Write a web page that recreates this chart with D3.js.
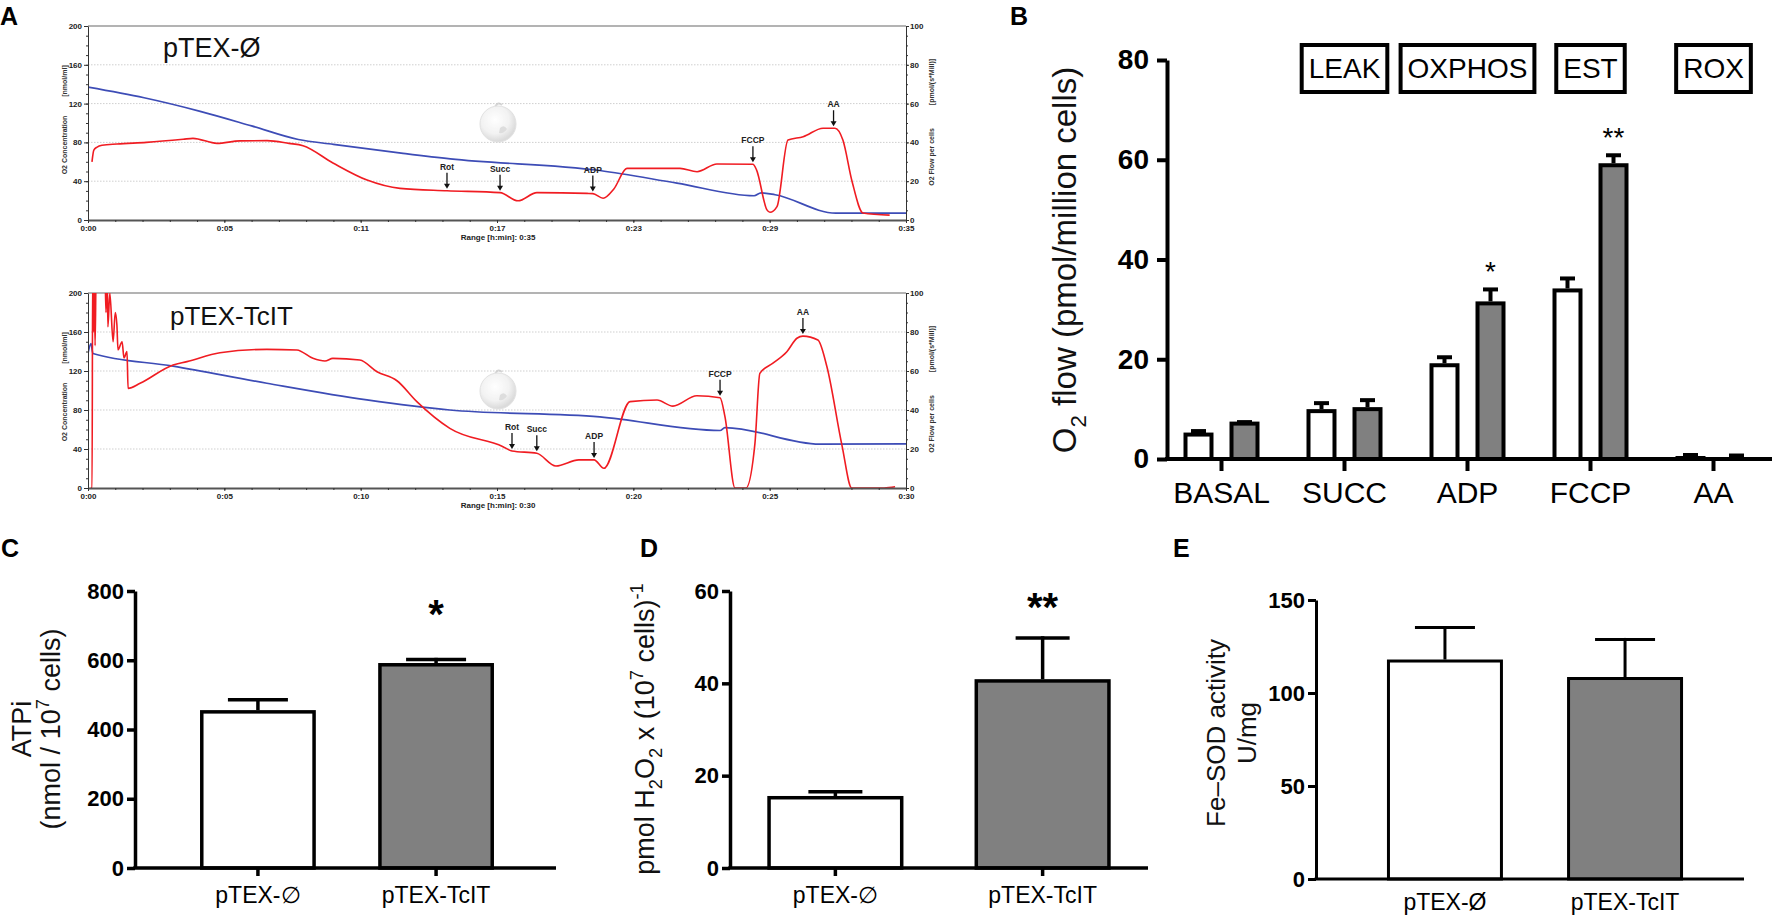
<!DOCTYPE html>
<html>
<head>
<meta charset="utf-8">
<script src="https://cdn.jsdelivr.net/npm/d3@7"></script>
<style>
  body { margin: 0; background: white; }
</style>
</head>
<body>
<script>
// ---- panel A: oxygraph traces (time in min) ----
// O2 concentration [nmol/ml], left scale
var topConc = [[0,137],[2.4,126],[4.8,112],[7,97],[9,83],[10.5,78],[13.4,69],[15.5,63],[21.9,51],[25.2,38],[28.5,25],[28.8,28],[29.4,26],[32,7],[35,7]];
// O2 flow per cells [pmol/(s*Mill)], right scale
var topFlow = [[0.17,30],[0.25,36],[0.39,37.6],[0.6,38.5],[1.24,39.2],[2.5,40],[4.07,41.6],[4.49,42.1],[5.52,39.5],[6.5,40.8],[7.66,40.9],[8.6,39.5],[9.2,38.3],[10.48,29.4],[11.94,20.6],[13.35,16.3],[15.36,15.1],[17.63,14.1],[18.4,9.9],[19.21,14.1],[21.35,13.7],[21.6,13.6],[22.04,11.2],[22.5,16],[23.06,26.6],[25.33,26.6],[26.06,24.9],[26.91,28.9],[28.45,28.7],[28.6,26],[29.05,5.2],[29.18,4],[29.48,6.9],[29.95,41.2],[30.6,42.9],[31.45,47.3],[31.96,47.3],[32.3,41.2],[32.69,20],[33.16,3.6],[34.3,2.5]];
var botConc = [[0,138],[0.11,148],[0.18,138],[3.12,125],[6.56,107.4],[10.23,90.3],[13.27,80],[18.77,73],[23.18,59],[23.36,62],[26.84,45],[30,45.3]];
var botFlow = [[0.1,0],[0.15,0],[0.17,112],[0.2,80],[0.22,112],[0.26,73],[0.3,112],[0.62,112],[0.66,90],[0.7,112],[0.73,82.7],[0.8,100],[0.92,75],[1.0,90],[1.06,83.6],[1.1,70.8],[1.25,75],[1.32,66.7],[1.43,70],[1.47,51.1],[1.91,53.7],[3.12,63.1],[3.63,64.8],[4.84,69.4],[6.56,71.1],[7.66,70.8],[8.25,66.5],[8.69,65.1],[8.98,66.5],[9.97,65.6],[10.6,59.6],[11.33,55],[12.06,44.3],[13.27,30.6],[15.22,21.2],[15.55,19],[16.46,17.8],[17.16,11.3],[18,14.4],[18.56,14.4],[18.92,10.1],[19.88,44.3],[20.87,45.1],[21.45,42],[22.33,47.3],[23.18,46.3],[23.36,36.6],[23.73,0],[24.13,0],[24.46,22.9],[24.64,58.8],[25.12,64],[25.63,69.9],[26,76.8],[26.22,77.9],[26.77,75.9],[27.1,62.2],[27.65,22],[28.01,0],[29.2,0],[29.6,0.6]];
var eventNames = ["Rot", "Succ", "ADP", "FCCP", "AA"];
var topEventTimes = [15.36, 17.63, 21.6, 28.45, 31.9];
var botEventTimes = [15.55, 16.46, 18.56, 23.18, 26.22];
var topTimeLabels = ["0:00", "0:05", "0:11", "0:17", "0:23", "0:29", "0:35"];
var botTimeLabels = ["0:00", "0:05", "0:10", "0:15", "0:20", "0:25", "0:30"];

// ---- panel B: O2 flow (pmol/million cells) ----
var states = ["BASAL", "SUCC", "ADP", "FCCP", "AA"];
var flowEmpty = [5.3, 10.0, 19.2, 34.2, 0.6];
var flowEmptyErr = [0.7, 1.6, 1.6, 2.4, 0.6];
var flowTcIT = [7.5, 10.4, 31.6, 59.3, 0.4];
var flowTcITErr = [0.3, 1.8, 2.8, 2.0, 0.7];
var flowStars = ["", "", "*", "**", ""];
var regimes = ["LEAK", "OXPHOS", "EST", "ROX"];
var regimeStates = ["SUCC", "ADP", "FCCP", "AA"];

// ---- panels C, D, E ----
var strainsCD = ["pTEX-\u2205", "pTEX-TcIT"];
var strainsE = ["pTEX-\u00D8", "pTEX-TcIT"];
var atp = [456, 592], atpErr = [35, 15], atpStars = ["", "*"];
var h2o2 = [15.6, 40.9], h2o2Err = [1.3, 9.3], h2o2Stars = ["", "**"];
var sod = [118, 108.6], sodErr = [18, 21], sodStars = ["", ""];
var barFills = ["white", "#808080"];

var svg = d3.select("body").append("svg")
  .attr("width", 1772).attr("height", 918)
  .style("font-family", "'Liberation Sans', Arial, sans-serif");

var defs = svg.append("defs");
var grad = defs.append("radialGradient").attr("id", "ball").attr("cx", "42%").attr("cy", "38%").attr("r", "60%");
grad.append("stop").attr("offset", "0%").attr("stop-color", "#ffffff");
grad.append("stop").attr("offset", "65%").attr("stop-color", "#eeeeee");
grad.append("stop").attr("offset", "100%").attr("stop-color", "#cfcfcf");

function rich(sel, parts, size) {
  var shift = 0;
  parts.forEach(function(p) {
    var s = p[1] == "sub" ? size * 0.3 : p[1] == "sup" ? -size * 0.42 : 0;
    sel.append("tspan").attr("dy", s - shift)
      .attr("font-size", p[1] ? size * 0.68 : size).text(p[0]);
    shift = s;
  });
}

function interp(series, t) {
  var i = d3.bisector(function(d) { return d[0]; }).left(series, t);
  if (i <= 0) return series[0][1];
  if (i >= series.length) return series[series.length - 1][1];
  var a = series[i - 1], b = series[i];
  return a[1] + (b[1] - a[1]) * (t - a[0]) / (b[0] - a[0]);
}

function styleSmallAxis(g) {
  g.selectAll("text").attr("font-size", 8).attr("font-weight", "bold").attr("fill", "#222");
  g.selectAll("line").attr("stroke", "#333");
}

function oxygraph(p) {
  var x = d3.scaleLinear().domain([0, p.span]).range([88, 906]);
  var yConc = d3.scaleLinear().domain([0, 200]).range([p.y1, p.y0]);
  var yFlow = d3.scaleLinear().domain([0, 100]).range([p.y1, p.y0]);
  var g = svg.append("g");

  defs.append("clipPath").attr("id", p.id).append("rect")
    .attr("x", 88).attr("y", p.y0).attr("width", 818).attr("height", p.y1 - p.y0);

  g.selectAll("line.grid").data([40, 80, 120, 160]).enter().append("line")
    .attr("class", "grid")
    .attr("x1", 88).attr("x2", 906)
    .attr("y1", function(d) { return yConc(d); }).attr("y2", function(d) { return yConc(d); })
    .attr("stroke", "#cfcfcf").attr("stroke-dasharray", "1.5,1.5");
  g.append("line").attr("x1", 88).attr("x2", 906).attr("y1", p.y0).attr("y2", p.y0)
    .attr("stroke", "#9a9a9a").attr("stroke-width", 1.5);

  // instrument logo
  var logo = g.append("g").attr("transform", "translate(498," + (p.y0 + 98) + ")").attr("opacity", 0.75);
  logo.append("path").attr("d", "M-3,-17Q0,-23 4,-19").attr("fill", "none").attr("stroke", "#c8c8c8").attr("stroke-width", 2);
  logo.append("circle").attr("r", 18).attr("fill", "url(#ball)").attr("stroke", "#d8d8d8").attr("stroke-width", 1);
  logo.append("path").attr("d", "M2,4Q6,0 9,5Q6,10 1,9Z").attr("fill", "#d2d2d2");

  var concLine = d3.line().x(function(d) { return x(d[0]); }).y(function(d) { return yConc(d[1]); }).curve(d3.curveMonotoneX);
  var flowLine = d3.line().x(function(d) { return x(d[0]); }).y(function(d) { return yFlow(d[1]); }).curve(d3.curveMonotoneX);
  g.append("path").datum(p.conc).attr("d", concLine)
    .attr("fill", "none").attr("stroke", "#3d4cb6").attr("stroke-width", 1.7)
    .attr("clip-path", "url(#" + p.id + ")");
  g.append("path").datum(p.flow).attr("d", flowLine)
    .attr("fill", "none").attr("stroke", "#f01c22").attr("stroke-width", 1.6)
    .attr("clip-path", "url(#" + p.id + ")");

  // injection markers
  var ev = g.selectAll("g.ev").data(p.events).enter().append("g").attr("class", "ev")
    .attr("transform", function(d, i) {
      return "translate(" + x(p.times[i]) + "," + (yFlow(interp(p.flow, p.times[i])) - 2) + ")";
    });
  ev.append("line").attr("y1", -16).attr("y2", -4).attr("stroke", "#111").attr("stroke-width", 1.3);
  ev.append("path").attr("d", "M-3,-5L3,-5L0,0Z").attr("fill", "#111");
  ev.append("text").attr("y", -19).attr("text-anchor", "middle")
    .attr("font-size", 8.5).attr("font-weight", "bold").attr("fill", "#222")
    .text(function(d) { return d; });

  // axes
  var ax = g.append("g").attr("transform", "translate(88,0)")
    .call(d3.axisLeft(yConc).tickValues(d3.range(0, 201, 40)).tickSize(4).tickPadding(2).tickSizeOuter(0));
  ax.select(".domain").attr("stroke", "#333");
  styleSmallAxis(ax);
  styleSmallAxis(g.append("g").attr("transform", "translate(88,0)")
    .call(d3.axisLeft(yConc).tickValues(d3.range(0, 201, 10)).tickSize(2).tickFormat(""))
    .call(function(s) { s.select(".domain").remove(); }));

  var ar = g.append("g").attr("transform", "translate(906,0)")
    .call(d3.axisRight(yFlow).tickValues(d3.range(0, 101, 20)).tickSize(3).tickPadding(1).tickSizeOuter(0));
  ar.select(".domain").attr("stroke", "#333");
  styleSmallAxis(ar);
  styleSmallAxis(g.append("g").attr("transform", "translate(906,0)")
    .call(d3.axisRight(yFlow).tickValues(d3.range(0, 101, 5)).tickSize(2).tickFormat(""))
    .call(function(s) { s.select(".domain").remove(); }));

  var ab = g.append("g").attr("transform", "translate(0," + p.y1 + ")")
    .call(d3.axisBottom(x).tickValues(d3.range(7).map(function(i) { return i * p.span / 6; }))
      .tickFormat(function(d, i) { return p.timeLabels[i]; }).tickSize(3).tickPadding(2).tickSizeOuter(0));
  ab.select(".domain").attr("stroke", "#555").attr("stroke-width", 2);
  styleSmallAxis(ab);
  styleSmallAxis(g.append("g").attr("transform", "translate(0," + p.y1 + ")")
    .call(d3.axisBottom(x).tickValues(d3.range(31).map(function(i) { return i * p.span / 30; })).tickSize(2).tickFormat(""))
    .call(function(s) { s.select(".domain").remove(); }));

  g.append("text").attr("x", 498).attr("y", p.y1 + 20).attr("text-anchor", "middle")
    .attr("font-size", 8).attr("font-weight", "bold").attr("fill", "#222")
    .text("Range [h:min]: " + p.timeLabels[6]);

  var sideLabels = [[67, 55, "[nmol/ml]"], [67, 119, "O2 Concentration"], [934, 56, "[pmol/(s*Mill)]"], [934, 131, "O2 Flow per cells"]];
  g.selectAll("text.side").data(sideLabels).enter().append("text").attr("class", "side")
    .attr("transform", function(d) { return "translate(" + d[0] + "," + (p.y0 + d[1]) + ") rotate(-90)"; })
    .attr("text-anchor", "middle").attr("font-size", 7).attr("font-weight", "bold").attr("fill", "#333")
    .text(function(d) { return d[2]; });

  g.append("text").attr("x", p.titleX).attr("y", p.titleY)
    .attr("font-size", p.titleSize).attr("fill", "#111").text(p.title);
}

oxygraph({id: "clipTop", y0: 26, y1: 220, span: 35, conc: topConc, flow: topFlow,
  events: eventNames, times: topEventTimes, timeLabels: topTimeLabels,
  title: "pTEX-\u00D8", titleX: 163, titleY: 57, titleSize: 27});
oxygraph({id: "clipBot", y0: 293, y1: 488, span: 30, conc: botConc, flow: botFlow,
  events: eventNames, times: botEventTimes, timeLabels: botTimeLabels,
  title: "pTEX-TcIT", titleX: 170, titleY: 325, titleSize: 26});

// ---- panel B ----
var yB = d3.scaleLinear().domain([0, 80]).range([459, 60]);
var xB = d3.scaleBand().domain(states).range([1160, 1775]);
var xSub = d3.scaleBand().domain(["empty", "tcit"]).range([-38, 38]).paddingInner(0.348);
var bData = [];
states.forEach(function(s, i) {
  bData.push({s: s, k: "empty", v: flowEmpty[i], e: flowEmptyErr[i], star: "", fill: barFills[0]});
  bData.push({s: s, k: "tcit", v: flowTcIT[i], e: flowTcITErr[i], star: flowStars[i], fill: barFills[1]});
});
var gB = svg.append("g");
function bx(d) { return xB(d.s) + xB.bandwidth() / 2 + xSub(d.k); }
gB.selectAll("line.err").data(bData).enter().append("line").attr("class", "err")
  .attr("x1", function(d) { return bx(d) + xSub.bandwidth() / 2; })
  .attr("x2", function(d) { return bx(d) + xSub.bandwidth() / 2; })
  .attr("y1", function(d) { return yB(d.v); }).attr("y2", function(d) { return yB(d.v + d.e) + 2; })
  .attr("stroke", "black").attr("stroke-width", 4);
gB.selectAll("line.cap").data(bData).enter().append("line").attr("class", "cap")
  .attr("x1", function(d) { return bx(d) + xSub.bandwidth() / 2 - 7.5; })
  .attr("x2", function(d) { return bx(d) + xSub.bandwidth() / 2 + 7.5; })
  .attr("y1", function(d) { return yB(d.v + d.e) + 2; }).attr("y2", function(d) { return yB(d.v + d.e) + 2; })
  .attr("stroke", "black").attr("stroke-width", 4);
gB.selectAll("rect").data(bData).enter().append("rect")
  .attr("x", function(d) { return bx(d) + 2; })
  .attr("width", xSub.bandwidth() - 4)
  .attr("y", function(d) { return yB(d.v) + 2; })
  .attr("height", function(d) { return 459 - yB(d.v) - 2; })
  .attr("fill", function(d) { return d.fill; })
  .attr("stroke", "black").attr("stroke-width", 4);
gB.selectAll("text.star").data(bData).enter().append("text").attr("class", "star")
  .attr("x", function(d) { return bx(d) + xSub.bandwidth() / 2; })
  .attr("y", function(d) { return yB(d.v + d.e) - 6; })
  .attr("text-anchor", "middle").attr("font-size", 28).text(function(d) { return d.star; });

var ayB = gB.append("g").attr("transform", "translate(1167,0)")
  .call(d3.axisLeft(yB).tickValues(d3.range(0, 81, 20)).tickSize(10).tickPadding(8).tickSizeOuter(0));
ayB.select(".domain").attr("stroke", "black").attr("stroke-width", 4);
ayB.selectAll("line").attr("stroke", "black").attr("stroke-width", 4);
ayB.selectAll("text").attr("font-size", 28).attr("font-weight", "bold").attr("fill", "black");
var axB = gB.append("g").attr("transform", "translate(0,459)")
  .call(d3.axisBottom(xB).tickSize(12).tickPadding(11));
axB.select(".domain").remove();
axB.selectAll("line").attr("stroke", "black").attr("stroke-width", 4);
axB.selectAll("text").attr("font-size", 30).attr("fill", "black");
gB.append("line").attr("x1", 1165).attr("x2", 1772).attr("y1", 459).attr("y2", 459)
  .attr("stroke", "black").attr("stroke-width", 4);

var reg = gB.selectAll("g.reg").data(regimes).enter().append("g").attr("class", "reg")
  .attr("transform", function(d, i) { return "translate(" + (xB(regimeStates[i]) + xB.bandwidth() / 2) + ",0)"; });
reg.append("text").attr("y", 78).attr("text-anchor", "middle").attr("font-size", 28)
  .text(function(d) { return d; });
reg.insert("rect", "text")
  .each(function() {
    var w = this.parentNode.querySelector("text").getComputedTextLength() + 14;
    d3.select(this).attr("x", -w / 2).attr("width", w);
  })
  .attr("y", 45).attr("height", 47).attr("fill", "white").attr("stroke", "black").attr("stroke-width", 4);

var yLabB = gB.append("text").attr("transform", "translate(1076,260) rotate(-90)")
  .attr("text-anchor", "middle").attr("fill", "#111");
rich(yLabB, [["O"], ["2", "sub"], [" flow (pmol/million cells)"]], 33);

// ---- panels C, D, E ----
function barPanel(p) {
  var y = d3.scaleLinear().domain([0, p.max]).range([p.y0, p.yTop]);
  var x = d3.scaleBand().domain(p.groups).range([p.xAxis, p.xEnd]).paddingInner(p.pi).paddingOuter(p.po);
  var g = svg.append("g");
  var rows = p.groups.map(function(s, i) { return {s: s, v: p.values[i], e: p.errs[i], star: p.stars[i], fill: barFills[i]}; });
  var cx = function(d) { return x(d.s) + x.bandwidth() / 2; };
  g.selectAll("line.err").data(rows).enter().append("line")
    .attr("x1", cx).attr("x2", cx)
    .attr("y1", function(d) { return y(d.v); }).attr("y2", function(d) { return y(d.v + d.e); })
    .attr("stroke", "black").attr("stroke-width", p.sw);
  g.selectAll("line.cap").data(rows).enter().append("line")
    .attr("x1", function(d) { return cx(d) - p.cap / 2; }).attr("x2", function(d) { return cx(d) + p.cap / 2; })
    .attr("y1", function(d) { return y(d.v + d.e) + p.sw / 2; }).attr("y2", function(d) { return y(d.v + d.e) + p.sw / 2; })
    .attr("stroke", "black").attr("stroke-width", p.sw);
  g.selectAll("rect").data(rows).enter().append("rect")
    .attr("x", function(d) { return x(d.s) + p.sw / 2; }).attr("width", x.bandwidth() - p.sw)
    .attr("y", function(d) { return y(d.v) + p.sw / 2; })
    .attr("height", function(d) { return p.y0 - y(d.v) - p.sw / 2; })
    .attr("fill", function(d) { return d.fill; })
    .attr("stroke", "black").attr("stroke-width", p.sw);
  g.selectAll("text.star").data(rows).enter().append("text")
    .attr("x", cx).attr("y", function(d) { return y(d.v + d.e) - p.starGap; })
    .attr("text-anchor", "middle").attr("font-size", 40).attr("font-weight", "bold")
    .text(function(d) { return d.star; });

  var ay = g.append("g").attr("transform", "translate(" + p.xAxis + ",0)")
    .call(d3.axisLeft(y).tickValues(d3.range(0, p.max + 1, p.step)).tickSize(8).tickPadding(3).tickSizeOuter(0));
  ay.select(".domain").attr("stroke", "black").attr("stroke-width", p.sw);
  ay.selectAll("line").attr("stroke", "black").attr("stroke-width", p.sw);
  ay.selectAll("text").attr("font-size", 22).attr("font-weight", "bold").attr("fill", "black");

  var axx = g.append("g").attr("transform", "translate(0," + p.y0 + ")")
    .call(d3.axisBottom(x).tickSize(p.xTicks ? 8 : 0).tickPadding(p.xTicks ? 11 : 15));
  axx.select(".domain").remove();
  axx.selectAll("line").attr("stroke", "black").attr("stroke-width", p.sw);
  axx.selectAll("text").attr("font-size", 23).attr("fill", "black");
  g.append("line").attr("x1", p.xAxis - p.sw / 2).attr("x2", p.xLine).attr("y1", p.y0).attr("y2", p.y0)
    .attr("stroke", "black").attr("stroke-width", p.sw);

  p.yLabel.forEach(function(lab, i) {
    var t = g.append("text").attr("transform", "translate(" + lab[0] + "," + p.labelY + ") rotate(-90)")
      .attr("text-anchor", "middle").attr("fill", "#111");
    rich(t, lab[1], p.labelSize);
  });

  g.append("text").attr("x", p.letterX).attr("y", 557).attr("font-size", 25).attr("font-weight", "bold").text(p.letter);
}

barPanel({letter: "C", letterX: 1, groups: strainsCD, values: atp, errs: atpErr, stars: atpStars,
  max: 800, step: 200, y0: 868, yTop: 591, xAxis: 135, xEnd: 559, xLine: 556, pi: 0.35, po: 0.365,
  sw: 3.5, cap: 60, starGap: 30, xTicks: true, labelY: 729, labelSize: 27,
  yLabel: [[31, [["ATPi"]]], [60, [["(nmol / 10"], ["7", "sup"], [" cells)"]]]]});
barPanel({letter: "D", letterX: 640, groups: strainsCD, values: h2o2, errs: h2o2Err, stars: h2o2Stars,
  max: 60, step: 20, y0: 868, yTop: 591, xAxis: 730, xEnd: 1148, xLine: 1148, pi: 0.343, po: 0.18,
  sw: 3.5, cap: 54, starGap: 15, xTicks: true, labelY: 729, labelSize: 27,
  yLabel: [[654, [["pmol H"], ["2", "sub"], ["O"], ["2", "sub"], [" x (10"], ["7", "sup"], [" cells)"], ["-1", "sup"]]]]});
barPanel({letter: "E", letterX: 1173, groups: strainsE, values: sod, errs: sodErr, stars: sodStars,
  max: 150, step: 50, y0: 879, yTop: 600, xAxis: 1316, xEnd: 1754, xLine: 1744, pi: 0.356, po: 0.394,
  sw: 3, cap: 60, starGap: 20, xTicks: false, labelY: 733, labelSize: 26,
  yLabel: [[1225, [["Fe\u2013SOD activity"]]], [1256, [["U/mg"]]]]});

svg.append("text").attr("x", 0).attr("y", 25).attr("font-size", 25).attr("font-weight", "bold").text("A");
svg.append("text").attr("x", 1010).attr("y", 25).attr("font-size", 25).attr("font-weight", "bold").text("B");
</script>
</body>
</html>
